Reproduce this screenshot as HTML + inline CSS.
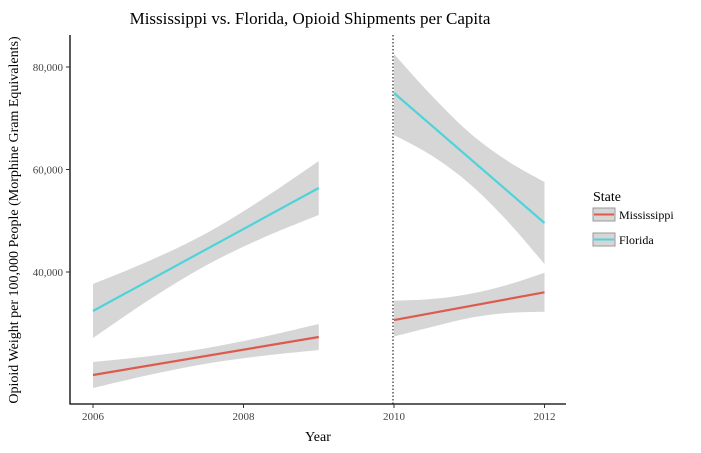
<!DOCTYPE html>
<html><head><meta charset="utf-8">
<style>
html,body{margin:0;padding:0;background:#fff;}
svg{display:block;font-family:"Liberation Serif",serif;}
</style></head>
<body>
<svg id="chart" width="701" height="453">
  <text x="310" y="24" text-anchor="middle" font-size="17" fill="#000">Mississippi vs. Florida, Opioid Shipments per Capita</text>
  <text x="318" y="441" text-anchor="middle" font-size="14" fill="#000">Year</text>
  <text transform="translate(18,220) rotate(-90)" text-anchor="middle" font-size="14" fill="#000">Opioid Weight per 100,000 People (Morphine Gram Equivalents)</text>
  <g id="bands"></g>
  <g id="lines"></g>
  <line x1="393" y1="35" x2="393" y2="404" stroke="#000" stroke-width="1" stroke-dasharray="1.5,2"/>
  <g id="axes"></g>
  <g>
    <text x="593" y="201" font-size="14" fill="#000">State</text>
    <g>
      <rect x="593" y="208" width="22" height="13" fill="#d6d6d6" stroke="#999" stroke-width="1"/>
      <line x1="594" y1="214.5" x2="614" y2="214.5" stroke="#dd5a4e" stroke-width="2"/>
      <text x="619" y="219" font-size="12" fill="#000">Mississippi</text>
    </g>
    <g>
      <rect x="593" y="233" width="22" height="13" fill="#d6d6d6" stroke="#999" stroke-width="1"/>
      <line x1="594" y1="239.5" x2="614" y2="239.5" stroke="#4fd3da" stroke-width="2"/>
      <text x="619" y="244" font-size="12" fill="#000">Florida</text>
    </g>
  </g>
</svg>
<script>
const xTicks = [2006, 2008, 2010, 2012];
const yTicks = [40000, 60000, 80000];
const bandYears1 = [2006, 2006.75, 2007.5, 2008.25, 2009];
const bandYears2 = [2010, 2010.5, 2011, 2011.5, 2012];
const lineYears1 = [2006, 2009];
const lineYears2 = [2010, 2012];
const flLine1 = [32390, 56390];
const flLine2 = [74930, 49560];
const msLine1 = [19900, 27320];
const msLine2 = [30630, 36040];
const flUpper1 = [37660, 42190, 47510, 54190, 61660];
const flLower1 = [27120, 34620, 41270, 46620, 51120];
const flUpper2 = [82540, 74440, 67220, 61760, 57560];
const flLower2 = [66730, 62730, 57270, 50050, 41560];
const msUpper1 = [22440, 23590, 25130, 27300, 29850];
const msLower1 = [17370, 19920, 22090, 23630, 24780];
const msUpper2 = [34400, 34730, 35710, 37460, 39860];
const msLower2 = [27420, 29270, 31030, 32000, 32250];

const NS = "http://www.w3.org/2000/svg";
function xScale(t){ return 93 + (t - 2006) * 75.25; }
function yScale(v){ return 67 + (80000 - v) / 195.12; }

function smooth(pts){
  let d = "M" + pts[0][0] + "," + pts[0][1];
  for (let i = 0; i < pts.length - 1; i++) {
    const p0 = pts[Math.max(0, i - 1)], p1 = pts[i], p2 = pts[i + 1], p3 = pts[Math.min(pts.length - 1, i + 2)];
    const c1x = p1[0] + (p2[0] - p0[0]) / 6, c1y = p1[1] + (p2[1] - p0[1]) / 6;
    const c2x = p2[0] - (p3[0] - p1[0]) / 6, c2y = p2[1] - (p3[1] - p1[1]) / 6;
    d += " C" + c1x + "," + c1y + " " + c2x + "," + c2y + " " + p2[0] + "," + p2[1];
  }
  return d;
}
function band(years, up, lo, name){
  const top = years.map((t, i) => [xScale(t), yScale(up[i])]);
  const bot = years.map((t, i) => [xScale(t), yScale(lo[i])]).reverse();
  const d = smooth(top) + " L" + bot[0][0] + "," + bot[0][1] + " " + smooth(bot).slice(1).replace(/^[^C]*/, "") + " Z";
  const p = document.createElementNS(NS, "path");
  p.setAttribute("d", d);
  p.setAttribute("fill", "#d6d6d6");
  
  
  document.getElementById("bands").appendChild(p);
}
function line(years, vals, color, name){
  const l = document.createElementNS(NS, "line");
  l.setAttribute("x1", xScale(years[0])); l.setAttribute("y1", yScale(vals[0]));
  l.setAttribute("x2", xScale(years[1])); l.setAttribute("y2", yScale(vals[1]));
  l.setAttribute("stroke", color); l.setAttribute("stroke-width", "2.2");
  
  
  document.getElementById("lines").appendChild(l);
}
band(bandYears1, flUpper1, flLower1, "florida-ci-band-pre");
band(bandYears2, flUpper2, flLower2, "florida-ci-band-post");
band(bandYears1, msUpper1, msLower1, "mississippi-ci-band-pre");
band(bandYears2, msUpper2, msLower2, "mississippi-ci-band-post");
line(lineYears1, flLine1, "#4fd3da", "florida-trend-pre");
line(lineYears2, flLine2, "#4fd3da", "florida-trend-post");
line(lineYears1, msLine1, "#dd5a4e", "mississippi-trend-pre");
line(lineYears2, msLine2, "#dd5a4e", "mississippi-trend-post");

const axes = document.getElementById("axes");
function mk(tag, attrs){ const e = document.createElementNS(NS, tag); for (const k in attrs) e.setAttribute(k, attrs[k]); axes.appendChild(e); return e; }
const ya = mk("line", {x1:70, y1:35, x2:70, y2:404.5, stroke:"#000", "stroke-width":1.3});


const xa = mk("line", {x1:69.5, y1:404, x2:566, y2:404, stroke:"#000", "stroke-width":1.3});


xTicks.forEach(t => {
  const x = xScale(t);
  const tk = mk("line", {x1:x, y1:404, x2:x, y2:408, stroke:"#333", "stroke-width":1});
  
  
  const tx = mk("text", {x:x, y:420, "text-anchor":"middle", "font-size":11, fill:"#444"});
  tx.textContent = t;
  
  
});
yTicks.forEach(v => {
  const y = yScale(v);
  const tk = mk("line", {x1:66, y1:y, x2:70, y2:y, stroke:"#333", "stroke-width":1});
  
  
  const tx = mk("text", {x:63, y:y + 4, "text-anchor":"end", "font-size":11, fill:"#444"});
  tx.textContent = v.toLocaleString("en-US");
  
  
});
</script>
</body></html>
